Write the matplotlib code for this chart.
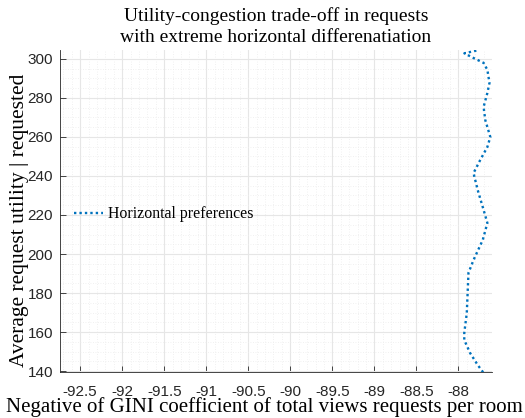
import matplotlib
matplotlib.use("Agg")
import matplotlib.pyplot as plt
from matplotlib.ticker import MultipleLocator

gini_neg = [-87.786, -87.929, -87.82, -87.70, -87.655, -87.63, -87.655, -87.70, -87.68,
            -87.62, -87.655, -87.74, -87.82, -87.77, -87.70, -87.655, -87.71, -87.82,
            -87.88, -87.89, -87.90, -87.93, -87.93, -87.86, -87.77, -87.70]
utility = [304.3, 302.9, 300.5, 298.0, 294.4, 287.7, 282.6, 275.4, 268.7,
           260.0, 254.9, 248.2, 241.5, 232.8, 222.6, 215.9, 207.2, 196.9,
           190.3, 180.0, 169.7, 159.5, 155.9, 149.2, 143.1, 139.0]
series_label = "Horizontal preferences"
xticks = [-92.5, -92, -91.5, -91, -90.5, -90, -89.5, -89, -88.5, -88]
xtick_labels = ["-92.5", "-92", "-91.5", "-91", "-90.5", "-90", "-89.5", "-89", "-88.5", "-88"]
yticks = [140, 160, 180, 200, 220, 240, 260, 280, 300]

fig = plt.figure(figsize=(5.25, 4.18), dpi=100)
ax = fig.add_axes([60/525, 1 - 372/418, (492-60)/525, (372-50)/418])

ax.plot(gini_neg, utility, linestyle=(0, (1, 1.3)), color="#0072BD", linewidth=1.7,
        label=series_label)

ax.set_xlim(-92.74, -87.6)
ax.set_ylim(139.5, 304.6)
ax.set_xticks(xticks)
ax.set_xticklabels(xtick_labels)
ax.set_yticks(yticks)
ax.xaxis.set_minor_locator(MultipleLocator(0.1))
ax.yaxis.set_minor_locator(MultipleLocator(5))

ax.grid(which="major", color="#e6e6e6", linewidth=0.8, linestyle="-")
ax.grid(which="minor", color="#ececec", linewidth=0.6, linestyle=(0, (1, 2)))
ax.set_axisbelow(True)

for s in ["top", "right"]:
    ax.spines[s].set_visible(False)
for s in ["left", "bottom"]:
    ax.spines[s].set_color("#262626")
    ax.spines[s].set_linewidth(0.6)

ax.tick_params(which="major", direction="in", length=4, width=0.6, color="#262626",
               labelsize=11, labelcolor="#262626")
ax.tick_params(axis="x", which="major", pad=9)
ax.tick_params(axis="y", which="major", pad=5)
ax.tick_params(which="minor", length=0)
for lab in ax.get_xticklabels() + ax.get_yticklabels():
    lab.set_family("Liberation Sans")

serif = "Liberation Serif"
ax.set_title("Utility-congestion trade-off in requests\nwith extreme horizontal differenatiation",
             fontfamily=serif, fontsize=14, linespacing=1.25, pad=6)
ax.set_xlabel("Negative of GINI coefficient of total views requests per room",
              fontfamily=serif, fontsize=15.0)
ax.set_ylabel("Average request utility | requested", fontfamily=serif, fontsize=15.5)
ax.xaxis.set_label_coords(0.473, -0.078)
ax.yaxis.set_label_coords(-0.072, 0.472)

leg = ax.legend(loc="center left", frameon=False, prop={"family": serif, "size": 11.4},
                handlelength=1.8, handletextpad=0.35, bbox_to_anchor=(0.0, 0.49))

fig.savefig("out.png", dpi=100)
